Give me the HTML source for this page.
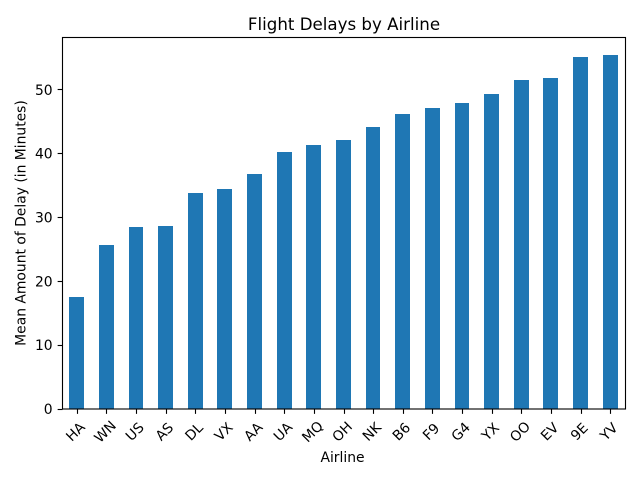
<!DOCTYPE html>
<html lang="en">
<head>
<meta charset="utf-8">
<title>Flight Delays by Airline</title>
<style>
html,body{margin:0;padding:0;background:#fff;}
svg{display:block;}
text{font-family:"DejaVu Sans","Liberation Sans",sans-serif;fill:#000;}
</style>
</head>
<body>
<svg id="chart" xmlns="http://www.w3.org/2000/svg" width="640" height="480" viewBox="0 0 640 480">
  <rect x="0" y="0" width="640" height="480" fill="#ffffff"/>
  <g id="bars" shape-rendering="crispEdges"></g>
  <g id="x-axis"></g>
  <g id="y-axis"></g>
  <rect x="62.5" y="37.5" width="563" height="371.5" fill="none" stroke="#000" stroke-width="1.11"/>
  <text x="344" y="30" text-anchor="middle" font-size="16.67">Flight Delays by Airline</text>
  <text x="342.5" y="462" text-anchor="middle" font-size="13.89">Airline</text>
  <text transform="translate(25.5 223) rotate(-90)" text-anchor="middle" font-size="13.89">Mean Amount of Delay (in Minutes)</text>
</svg>
<script>
const airlines = ["HA","WN","US","AS","DL","VX","AA","UA","MQ","OH","NK","B6","F9","G4","YX","OO","EV","9E","YV"];
const meanDelays = [17.55,25.7,28.5,28.7,33.85,34.4,36.8,40.25,41.35,42.15,44.2,46.2,47.15,47.95,49.35,51.55,51.85,55.15,55.43];
const yTickValues = [0,10,20,30,40,50];

const NS = "http://www.w3.org/2000/svg";
const plot = {left:62.5, right:625.5, top:37.5, bottom:409};
const yMax = Math.max.apply(null, meanDelays) * 1.05;
const barFraction = 0.5;
const tickLength = 4.86;
const labelShiftX = -2;
const barShiftX = -0.08;

function xBand() { return (plot.right - plot.left) / airlines.length; }
function xScale(i) { return plot.left + (i + 0.5) * xBand(); }
function yScale(v) { return plot.bottom - (v / yMax) * (plot.bottom - plot.top); }
function make(tag, attrs, parent) {
  const el = document.createElementNS(NS, tag);
  Object.keys(attrs).forEach(function (k) { el.setAttribute(k, attrs[k]); });
  parent.appendChild(el);
  return el;
}

const barsGroup = document.getElementById("bars");
const xGroup = document.getElementById("x-axis");
const yGroup = document.getElementById("y-axis");

airlines.forEach(function (code, i) {
  const w = xBand() * barFraction;
  const left = Math.floor(xScale(i) - w / 2 + barShiftX);
  const right = Math.floor(xScale(i) + w / 2 + barShiftX);
  const top = Math.round(yScale(meanDelays[i]));
  const bar = make("rect", {x: left, y: top, width: right - left, height: plot.bottom - top, fill: "#1f77b4"}, barsGroup);
  
  

  const tickX = Math.floor(xScale(i)) + 0.5;
  const tick = make("line", {x1: tickX, x2: tickX, y1: plot.bottom, y2: plot.bottom + tickLength, stroke: "#000", "stroke-width": 1.11}, xGroup);
  
  

  const cx = xScale(i) + labelShiftX;
  const cy = 431.5;
  const label = make("text", {x: cx, y: cy + 5, "text-anchor": "middle", "font-size": 13.89, transform: "rotate(-45 " + cx + " " + cy + ")"}, xGroup);
  
  
  label.textContent = code;
});

yTickValues.forEach(function (v) {
  const y = Math.floor(yScale(v)) + 0.5;
  const tick = make("line", {x1: plot.left - tickLength, x2: plot.left, y1: y, y2: y, stroke: "#000", "stroke-width": 1.11}, yGroup);
  
  

  const label = make("text", {x: plot.left - 9.9, y: yScale(v) + 5.05, "text-anchor": "end", "font-size": 13.89}, yGroup);
  
  
  label.textContent = String(v);
});
</script>
</body>
</html>
